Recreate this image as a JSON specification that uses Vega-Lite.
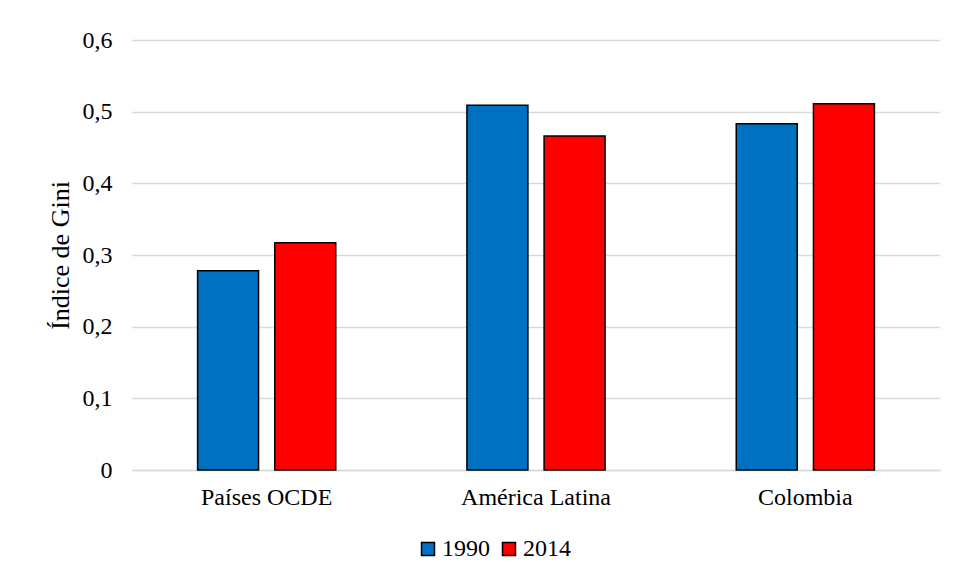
{
  "$schema": "https://vega.github.io/schema/vega-lite/v6.json",
  "autosize": {"type": "none"},
  "padding": {"left": 132, "top": 40, "right": 18, "bottom": 110},
  "width": 808,
  "height": 430,
  "background": "white",
  "config": {
    "view": {"stroke": null},
    "font": "Times New Roman, Liberation Serif, serif",
    "axis": {"labelFont": "Times New Roman, Liberation Serif, serif", "titleFont": "Times New Roman, Liberation Serif, serif"},
    "legend": {"labelFont": "Times New Roman, Liberation Serif, serif"}
  },
  "data": {
    "values": [
      {"region": "Países OCDE", "year": "1990", "gini": 0.278},
      {"region": "Países OCDE", "year": "2014", "gini": 0.317},
      {"region": "América Latina", "year": "1990", "gini": 0.509},
      {"region": "América Latina", "year": "2014", "gini": 0.466},
      {"region": "Colombia", "year": "1990", "gini": 0.483},
      {"region": "Colombia", "year": "2014", "gini": 0.511}
    ]
  },
  "mark": {"type": "bar", "stroke": "black", "strokeWidth": 1.5},
  "encoding": {
    "x": {
      "field": "region",
      "type": "nominal",
      "sort": ["Países OCDE", "América Latina", "Colombia"],
      "scale": {"paddingInner": 0.487, "paddingOuter": 0.2435},
      "axis": {
        "title": null,
        "labelAngle": 0,
        "labelFontSize": 24,
        "labelColor": "black",
        "labelPadding": 15,
        "ticks": false,
        "domainColor": "#d9d9d9",
        "domainWidth": 1.5
      }
    },
    "xOffset": {
      "field": "year",
      "type": "nominal",
      "scale": {"paddingInner": 0.21, "paddingOuter": 0}
    },
    "y": {
      "field": "gini",
      "type": "quantitative",
      "scale": {"domain": [0, 0.6], "nice": false},
      "axis": {
        "title": "Índice de Gini",
        "titleFontSize": 26,
        "titleFontWeight": "normal",
        "titleColor": "black",
        "titlePadding": 9,
        "values": [0, 0.1, 0.2, 0.3, 0.4, 0.5, 0.6],
        "labelExpr": "replace(format(datum.value, '.1~f'), '.', ',')",
        "labelFontSize": 24,
        "labelColor": "black",
        "labelPadding": 20,
        "ticks": false,
        "domain": false,
        "gridColor": "#d9d9d9",
        "gridWidth": 1.5
      }
    },
    "color": {
      "field": "year",
      "type": "nominal",
      "scale": {"domain": ["1990", "2014"], "range": ["#0070C0", "#FF0000"]},
      "legend": {
        "title": null,
        "orient": "none",
        "direction": "horizontal",
        "legendX": 284,
        "legendY": 497,
        "symbolType": "square",
        "symbolSize": 169,
        "symbolStrokeColor": "black",
        "symbolStrokeWidth": 1.5,
        "labelFontSize": 24,
        "labelColor": "black",
        "labelOffset": 2,
        "columnPadding": 7
      }
    }
  }
}
